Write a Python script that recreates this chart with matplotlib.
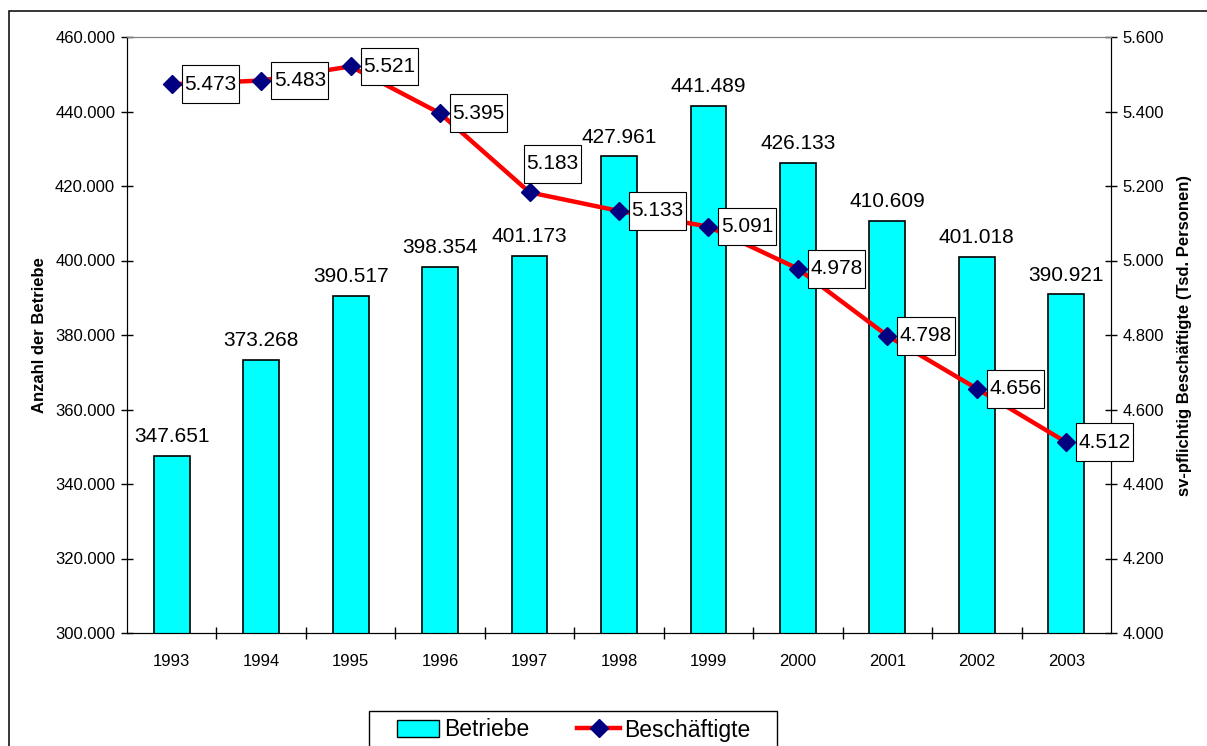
import matplotlib
matplotlib.use("Agg")
import matplotlib.pyplot as plt
from matplotlib.patches import Rectangle, Patch
from matplotlib.lines import Line2D
from matplotlib.path import Path

plt.rcParams['font.family'] = ['Liberation Sans', 'DejaVu Sans']

years = ["1993", "1994", "1995", "1996", "1997", "1998", "1999", "2000", "2001", "2002", "2003"]
betriebe = [347651, 373268, 390517, 398354, 401173, 427961, 441489, 426133, 410609, 401018, 390921]
beschaeftigte = [5473, 5483, 5521, 5395, 5183, 5133, 5091, 4978, 4798, 4656, 4512]


def de(v):
    return f"{v:,}".replace(",", ".")


def label_box(x0, y0, width, height, mutation_size):
    px = 0.12 * mutation_size
    py = 0.45 * mutation_size
    x0, y0 = x0 - px, y0 - py
    x1, y1 = x0 + width + 2 * px, y0 + height + 2 * py
    return Path([(x0, y0), (x1, y0), (x1, y1), (x0, y1), (x0, y0)],
                [Path.MOVETO, Path.LINETO, Path.LINETO, Path.LINETO, Path.CLOSEPOLY])


W, H = 1207, 746
fig = plt.figure(figsize=(W / 100, H / 100), dpi=100)
fig.patch.set_facecolor("white")

# outer frame (cut off at right and bottom)
fig.patches.append(Rectangle((9 / W, -0.05), 1.2, 1 - 11 / H + 0.05, transform=fig.transFigure,
                             fill=False, edgecolor="#000000", linewidth=1.1, zorder=0))

ax = fig.add_axes([127 / W, 1 - 633 / H, (1111 - 127) / W, (633 - 37) / H])
ax2 = ax.twinx()

x = list(range(len(years)))
ax.bar(x, betriebe, width=0.4, color="#00FFFF", edgecolor="black", linewidth=1.2, zorder=2)
ax.set_ylim(300000, 460000)
ax.set_xlim(-0.5, len(years) - 0.5)
ax.set_yticks(range(300000, 460001, 20000))
ax.set_yticklabels([de(v) for v in range(300000, 460001, 20000)], fontsize=12)
ax.set_xticks(x)
ax.set_xticklabels(years, fontsize=12)
ax.set_xticks([i + 0.5 for i in range(len(years) - 1)], minor=True)
ax.tick_params(axis="x", which="major", length=0, pad=15)
ax.tick_params(axis="x", which="minor", length=9, direction="inout", width=1)
ax.tick_params(axis="y", length=9, direction="inout", width=1, pad=4)
ax.set_ylabel("Anzahl der Betriebe", fontsize=12, fontweight="bold", labelpad=6)

for xi, v in zip(x, betriebe):
    ax.annotate(de(v), (xi, v), xytext=(0, 7), textcoords="offset points",
                ha="center", va="bottom", fontsize=15)

for s in ["left", "bottom"]:
    ax.spines[s].set_color("black")
ax.spines["top"].set_color("#808080")
ax.spines["right"].set_color("black")

ax2.plot(x, beschaeftigte, color="#FF0000", linewidth=3.2, marker="D", markersize=9,
         markerfacecolor="#000080", markeredgecolor="#000080", zorder=3)
ax2.set_ylim(4000, 5600)
ax2.set_yticks(range(4000, 5601, 200))
ax2.set_yticklabels([de(v) for v in range(4000, 5601, 200)], fontsize=12)
ax2.tick_params(axis="y", length=9, direction="inout", width=1, pad=4)
ax2.set_ylabel("sv-pflichtig Beschäftigte (Tsd. Personen)", fontsize=12, fontweight="bold",
               labelpad=9)
for s in ["left", "bottom", "right"]:
    ax2.spines[s].set_color("black")
ax2.spines["top"].set_color("#808080")

for i, (xi, v) in enumerate(zip(x, beschaeftigte)):
    if years[i] == "1997":
        off, ha = (16.5, 20.5), "center"
    else:
        off, ha = (9, 0), "left"
    ax2.annotate(de(v), (xi, v), xytext=off, textcoords="offset points",
                 ha=ha, va="center", fontsize=15, zorder=5,
                 bbox=dict(boxstyle=label_box, facecolor="white",
                           edgecolor="black", linewidth=0.8))

# legend frame drawn manually (cut off at the bottom)
fig.patches.append(Rectangle((369 / W, -0.05), (777 - 369) / W, 1 - 711 / H + 0.05,
                             transform=fig.transFigure, fill=False, edgecolor="black",
                             linewidth=1.0, zorder=1))
handles = [Patch(facecolor="#00FFFF", edgecolor="black", linewidth=1.0),
           Line2D([0], [0], color="#FF0000", linewidth=3.2, marker="D", markersize=9,
                  markerfacecolor="#000080", markeredgecolor="#000080")]
leg = fig.legend(handles, ["Betriebe", "Beschäftigte"], loc="center left",
                 bbox_to_anchor=(397 / W, 1 - 730 / H), ncol=2, fontsize=16.5,
                 frameon=False, borderaxespad=0, borderpad=0, handlelength=1.85,
                 handletextpad=0.2, columnspacing=2.1)

fig.savefig("out.png", dpi=100)
